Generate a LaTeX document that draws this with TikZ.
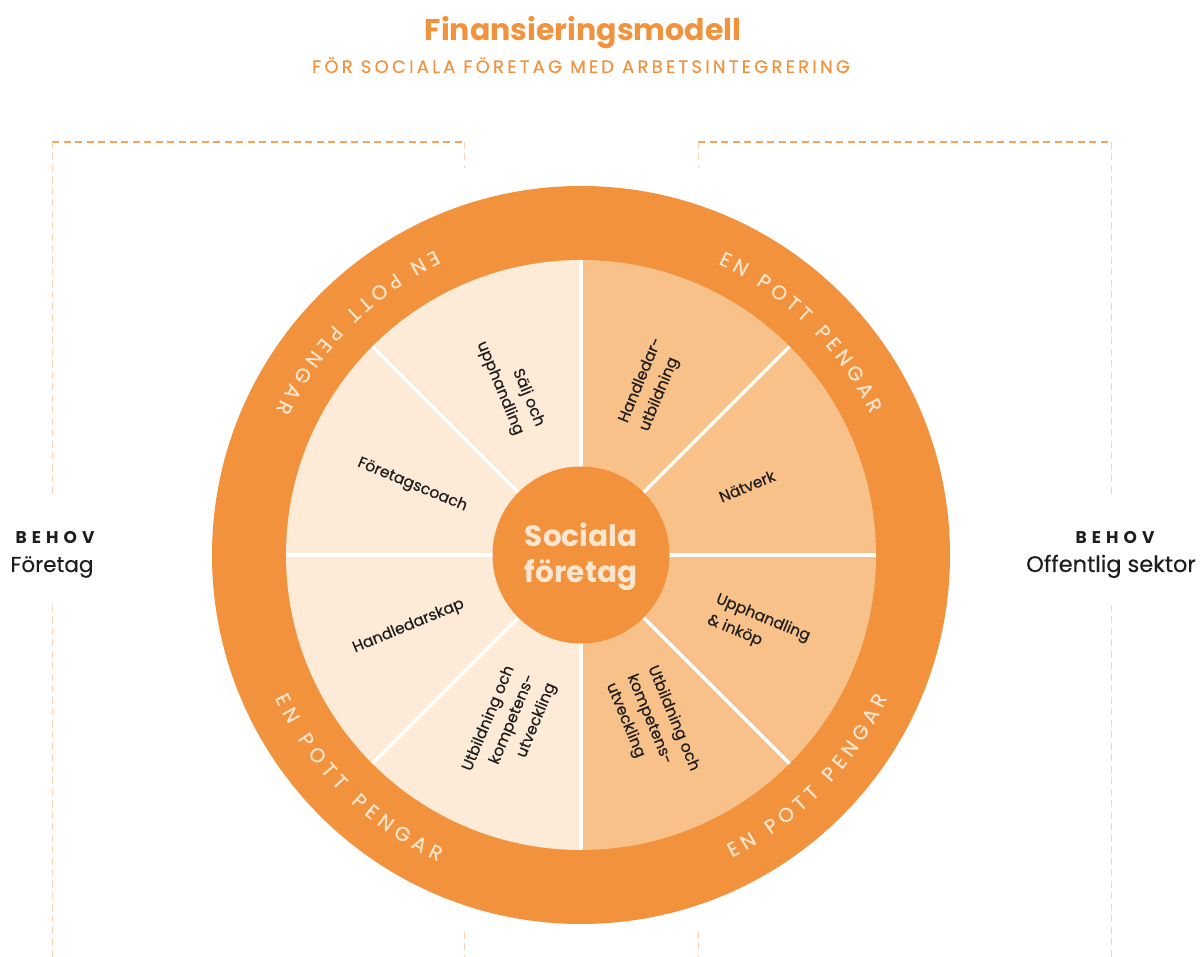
\documentclass[tikz,border=0pt]{standalone}
\usepackage{fontspec}
\setmainfont{Poppins}
\usetikzlibrary{decorations.text}
\definecolor{ring}{HTML}{F2923C}
\definecolor{segL}{HTML}{FDEAD7}
\definecolor{segR}{HTML}{F8C18A}
\definecolor{cream}{HTML}{FDE6D0}
\definecolor{dashO}{HTML}{F4A45C}
\definecolor{dashL}{HTML}{F8D3B4}
\definecolor{ink}{HTML}{1E1E1E}
\newcommand\ringfont{\fontsize{20}{20}\selectfont\addfontfeature{FakeBold=0.4}}
\begin{document}
\begin{tikzpicture}[x=1pt,y=1pt,
  seglabel/.style={font=\fontsize{15.5}{22.5}\selectfont\addfontfeature{FakeBold=0.4}, text=ink, inner sep=0pt},
  brk/.style={draw=dashO, line width=1.2pt, dash pattern=on 7pt off 4.5pt},
  brkv/.style={draw=dashL, line width=1pt, dash pattern=on 7pt off 4.5pt},
  divider/.style={draw=white, line width=3.5pt},
  ringtext/.style={decorate, decoration={text along path, text align=fit to path, text color=cream}}
]
\useasboundingbox (0,0) rectangle (1201,957);

% title
\node[anchor=base, inner sep=0pt, text=ring, font=\fontsize{30}{30}\selectfont\bfseries] (title) at (583,916) {Finansieringsmodell};
\node[anchor=base, inner sep=0pt, text=ring, font=\fontsize{18}{18}\selectfont\addfontfeature{LetterSpace=18,FakeBold=0.3}] (subtitle) at (581,884) {FÖR SOCIALA FÖRETAG MED ARBETSINTEGRERING};

% brackets
\coordinate (lt) at (52,815); \coordinate (lr) at (464,815); \coordinate (lrb) at (464,789);
\coordinate (lg1) at (52,460); \coordinate (lg2) at (52,352); \coordinate (lb) at (52,0);
\coordinate (lbs1) at (464,25); \coordinate (lbs2) at (464,0);
\coordinate (rt) at (1111,815); \coordinate (rl) at (698,815); \coordinate (rlb) at (698,789);
\coordinate (rg1) at (1111,460); \coordinate (rg2) at (1111,352); \coordinate (rb) at (1111,0);
\coordinate (rbs1) at (698,25); \coordinate (rbs2) at (698,0);
\draw[brk] (lt) -- (lr);
\draw[brk] (rl) -- (rt);
\draw[brkv] (lt) -- (lg1);
\draw[brkv] (lg2) -- (lb);
\draw[brkv] (lr) -- (lrb);
\draw[brkv] (lbs1) -- (lbs2);
\draw[brkv] (rt) -- (rg1);
\draw[brkv] (rg2) -- (rb);
\draw[brkv] (rl) -- (rlb);
\draw[brkv] (rbs1) -- (rbs2);

% BEHOV labels
\node[anchor=base, inner sep=0pt, text=ink, font=\fontsize{17}{17}\selectfont\bfseries\addfontfeature{LetterSpace=30}] (behovL) at (55,413) {BEHOV};
\node[anchor=base, inner sep=0pt, text=ink, font=\fontsize{21.5}{22}\selectfont\addfontfeature{FakeBold=0.3}] (foretag) at (52,385) {Företag};
\node[anchor=base, inner sep=0pt, text=ink, font=\fontsize{17}{17}\selectfont\bfseries\addfontfeature{LetterSpace=30}] (behovR) at (1115,413) {BEHOV};
\node[anchor=base, inner sep=0pt, text=ink, font=\fontsize{22.5}{22}\selectfont\addfontfeature{FakeBold=0.3}] (offentlig) at (1111,385) {Offentlig sektor};

% wheel
\begin{scope}[shift={(581,402)}]
  \fill[ring] (0,0) circle[radius=369];
  \fill[segR] (90:295) arc[start angle=90, end angle=-90, radius=295] -- cycle;
  \fill[segL] (90:295) arc[start angle=90, end angle=270, radius=295] -- cycle;
  \foreach \a in {0,45,...,315} {
    \draw[divider] (\a:80) -- (\a:295);
  }
  \node[circle, fill=ring, minimum size=177pt, inner sep=0pt] (hub) at (0,0) {};
  \node[align=center, text=cream, font=\fontsize{29.5}{36}\selectfont\bfseries] (hubtext) at (0,-2) {Sociala\\företag};

  % ring texts
  \path[ringtext, decoration={text={|\ringfont|EN POTT PENGAR}}] (64.8:322) arc[start angle=64.8, end angle=26.0, radius=322];
  \path[ringtext, decoration={text={|\ringfont|EN POTT PENGAR}}] (115.6:338) arc[start angle=115.6, end angle=154.6, radius=338];
  \path[ringtext, decoration={text={|\ringfont|EN POTT PENGAR}}] (205:338) arc[start angle=205, end angle=245, radius=338];
  \path[ringtext, decoration={text={|\ringfont|EN POTT PENGAR}}] (-63.5:338) arc[start angle=-63.5, end angle=-25, radius=338];

  % segment labels
  \node[seglabel, anchor=east, align=right, rotate=-67.5] (l1) at (112.5:135) {Sälj och\\upphandling};
  \node[seglabel, anchor=east, rotate=-22.5] (l2) at (157.5:124) {Företagscoach};
  \node[seglabel, anchor=east, rotate=22.5] (l3) at (202.5:127) {Handledarskap};
  \node[seglabel, anchor=east, align=right, rotate=67.5] (l4) at (247.5:130) {Utbildning och\\kompetens-\\utveckling};
  \node[seglabel, anchor=west, align=left, rotate=67.5] (r1) at (67.5:139) {Handledar-\\utbildning};
  \node[seglabel, anchor=west, rotate=22.5] (r2) at (22.5:150) {Nätverk};
  \node[seglabel, anchor=west, align=left, rotate=-22.5] (r3) at (-22.5:142) {Upphandling\\\& inköp};
  \node[seglabel, anchor=west, align=left, rotate=-67.5] (r4) at (-67.5:130) {Utbildning och\\kompetens-\\utveckling};
\end{scope}
\end{tikzpicture}
\end{document}
